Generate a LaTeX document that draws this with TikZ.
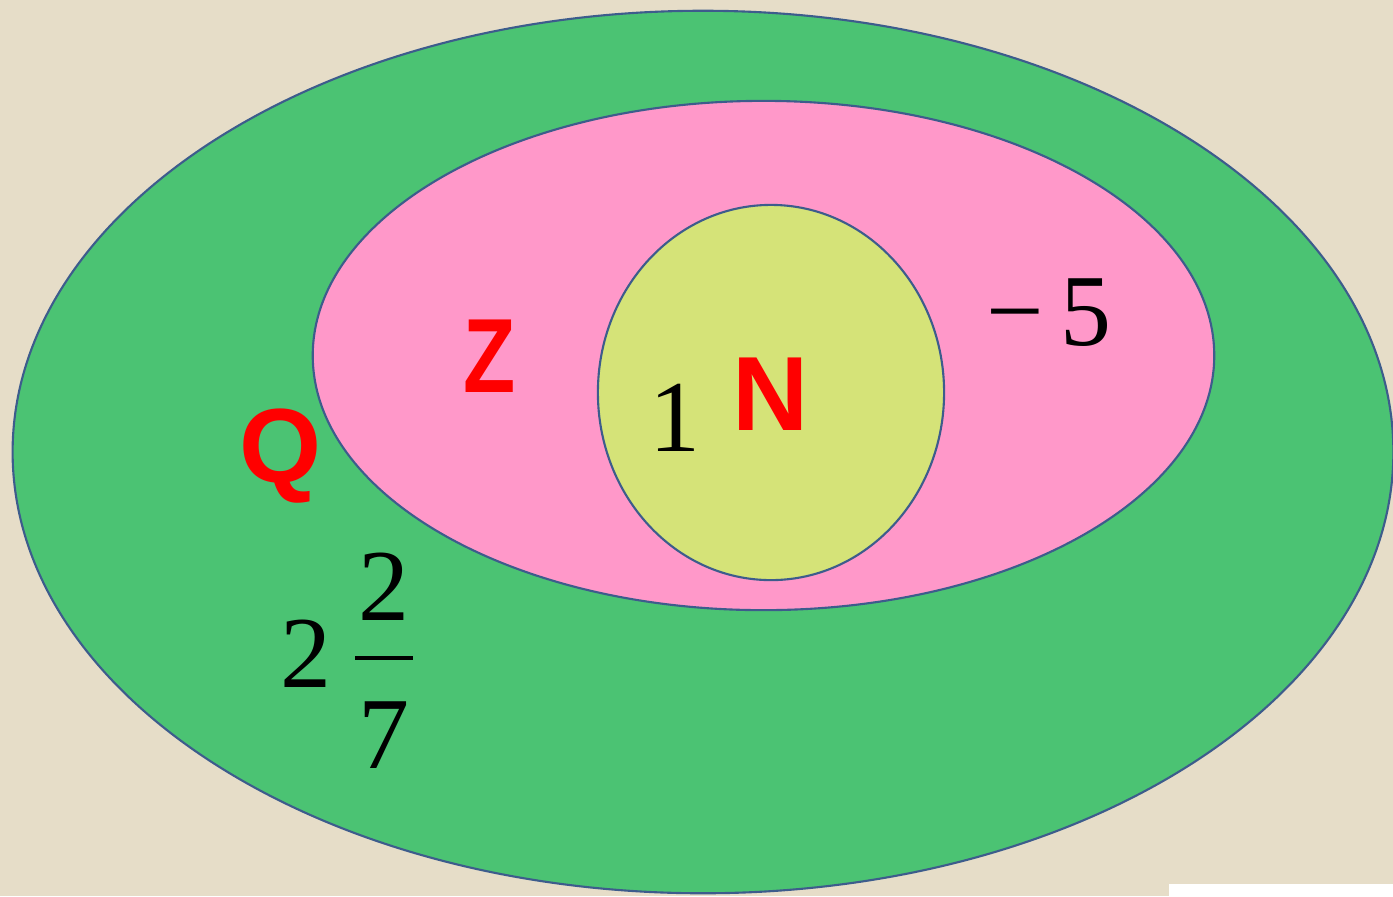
\documentclass[tikz,border=0pt]{standalone}
\usepackage{fontspec}
\setmainfont{Liberation Serif}
\newfontfamily\labelfont{Liberation Sans}
\definecolor{paper}{HTML}{E6DDC8}
\definecolor{setQ}{HTML}{4BC373}
\definecolor{setZ}{HTML}{FF98C9}
\definecolor{setN}{HTML}{D5E378}
\definecolor{rim}{HTML}{3D5C8C}
\definecolor{letter}{HTML}{FF0000}
\begin{document}
\begin{tikzpicture}[x=0.01cm,y=-0.01cm,line join=round,every node/.style={inner sep=0pt},
  setname/.style={text=letter,font=\labelfont\bfseries\fontsize{30}{30}\selectfont},
  num/.style={font=\fontsize{29}{29}\selectfont}]
  \useasboundingbox (0,0) rectangle (1393,896);
  \fill[paper] (0,0) rectangle (1393,896);
  \fill[white] (1169,884) rectangle (1393,896);
  % nested sets
  \draw[fill=setQ,draw=rim,line width=0.6pt] (703,452) ellipse [x radius=6.90cm,y radius=4.41cm];
  \draw[fill=setZ,draw=rim,line width=0.6pt] (763.5,355.5) ellipse [x radius=4.505cm,y radius=2.545cm];
  \draw[fill=setN,draw=rim,line width=0.6pt] (771,392.5) ellipse [x radius=1.73cm,y radius=1.875cm];
  % set names
  \node[setname,xscale=0.81] (Zname) at (490,356) {Z};
  \node[setname] (Nname) at (771,394) {N};
  \node[setname] (Qname) at (281,456) {Q};
  % elements
  \node[num] (one) at (675,418) {1};
  \node[num] (minusfive) at (1049,313) {−\,5};
  \node[num] (whole) at (306,654) {2};
  \node[num] (numer) at (384,587) {2};
  \node[num] (denom) at (384,735) {7};
  \coordinate (barL) at (355,658);
  \coordinate (barR) at (413,658);
  \draw[line width=0.9pt] (barL) -- (barR);
\end{tikzpicture}
\end{document}
